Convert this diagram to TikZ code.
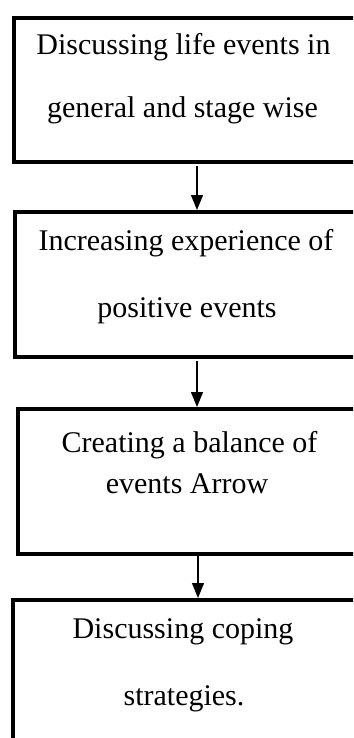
\documentclass[tikz,border=0pt]{standalone}
\usepackage{fontspec}
\setmainfont{Liberation Serif}
\usetikzlibrary{arrows.meta}
\begin{document}
\begin{tikzpicture}[x=1pt,y=-1pt,
  flowbox/.style={draw=black,line width=4pt,rectangle,inner sep=0pt},
  lbl/.style={anchor=base,inner sep=0pt,font=\fontsize{30}{36}\selectfont},
  conn/.style={line width=1.3pt,-{Triangle[length=15pt,width=12pt]}}]
\useasboundingbox (0,0) rectangle (353,738);
\clip (0,0) rectangle (353,738);
\node[flowbox,minimum width=358pt,minimum height=144pt,anchor=north west] (b1) at (12,16) {};
\node[flowbox,minimum width=357pt,minimum height=145pt,anchor=north west] (b2) at (13,210) {};
\node[flowbox,minimum width=354pt,minimum height=145pt,anchor=north west] (b3) at (16,407) {};
\node[flowbox,minimum width=359pt,minimum height=170pt,anchor=north west] (b4) at (11,598) {};
\node[lbl] (t1a) at (183.5,55) {Discussing life events in};
\node[lbl] (t1b) at (182.5,118) {general and stage wise};
\node[lbl] (t2a) at (186,250) {Increasing experience of};
\node[lbl] (t2b) at (187,317) {positive events};
\node[lbl] (t3a) at (189.5,452) {Creating a balance of};
\node[lbl] (t3b) at (187,493) {events Arrow};
\node[lbl] (t4a) at (183,638) {Discussing coping};
\node[lbl] (t4b) at (184,705) {strategies.};
\coordinate (ax1) at (197,0);
\coordinate (ax3) at (198,0);
\draw[conn] (b1.south -| ax1) ++(0,2) -- (b2.north -| ax1);
\draw[conn] (b2.south -| ax1) ++(0,2) -- (b3.north -| ax1);
\draw[conn] (b3.south -| ax3) ++(0,-4) -- (b4.north -| ax3);
\end{tikzpicture}
\end{document}
